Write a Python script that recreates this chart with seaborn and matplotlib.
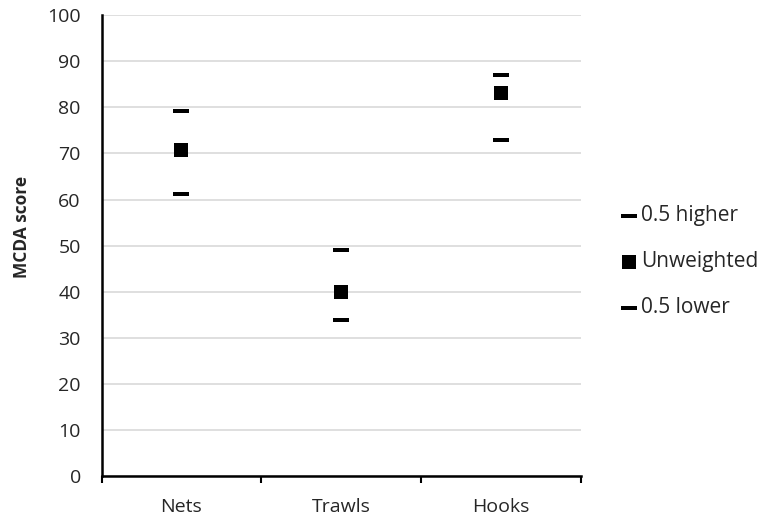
import numpy as np
import matplotlib
matplotlib.use("Agg")
import matplotlib.pyplot as plt
from matplotlib.path import Path
import seaborn as sns

categories = ["Nets", "Trawls", "Hooks"]
higher = [79.1, 49.1, 87.0]
unweighted = [70.8, 40.0, 83.0]
lower = [61.3, 33.8, 73.0]

sns.set_style("white")
plt.rcParams["font.family"] = ["Open Sans", "DejaVu Sans"]

# flat bar marker, like Excel's dash marker
dash = Path([(-0.5, -0.13), (0.5, -0.13), (0.5, 0.13), (-0.5, 0.13), (-0.5, -0.13)],
            [Path.MOVETO, Path.LINETO, Path.LINETO, Path.LINETO, Path.CLOSEPOLY])

fig = plt.figure(figsize=(7.64, 5.21), dpi=100)
ax = fig.add_axes([0.133, 0.086, 0.627, 0.885])

series = [
    ("0.5 higher", higher, dash, 117),
    ("Unweighted", unweighted, "s", 88),
    ("0.5 lower", lower, dash, 117),
]
for name, vals, mk, sz in series:
    sns.scatterplot(x=categories, y=vals, marker=mk, s=sz, color="black",
                    linewidth=0, label=name, ax=ax, zorder=3)

ax.set_xlim(-0.5, 2.5)
ax.set_ylim(0, 100)
ax.set_yticks(np.arange(0, 101, 10))
ax.yaxis.grid(True, color="#d9d9d9", linewidth=1.2)
ax.set_axisbelow(True)

ax.set_xticks(range(len(categories)))
ax.set_xticklabels(categories)
ax.set_xticks([-0.5, 0.5, 1.5, 2.5], minor=True)
ax.tick_params(axis="x", which="major", length=0, pad=16, labelsize=14)
ax.tick_params(axis="x", which="minor", length=5, width=1.5, direction="out",
               color="black", bottom=True)
ax.tick_params(axis="y", length=0, pad=15, labelsize=14)

for s in ["top", "right"]:
    ax.spines[s].set_visible(False)
for s in ["left", "bottom"]:
    ax.spines[s].set_color("black")
    ax.spines[s].set_linewidth(1.8)

ax.set_ylabel("MCDA score", fontsize=12.5, fontweight="bold")
ax.yaxis.set_label_coords(-0.148, 0.54)

ax.legend(loc="center left", bbox_to_anchor=(1.045, 0.465), frameon=False,
          fontsize=15, labelspacing=1.2, handletextpad=0.15, handlelength=0.8,
          markerscale=1.0)

plt.savefig("out.png", dpi=100)
plt.close()
